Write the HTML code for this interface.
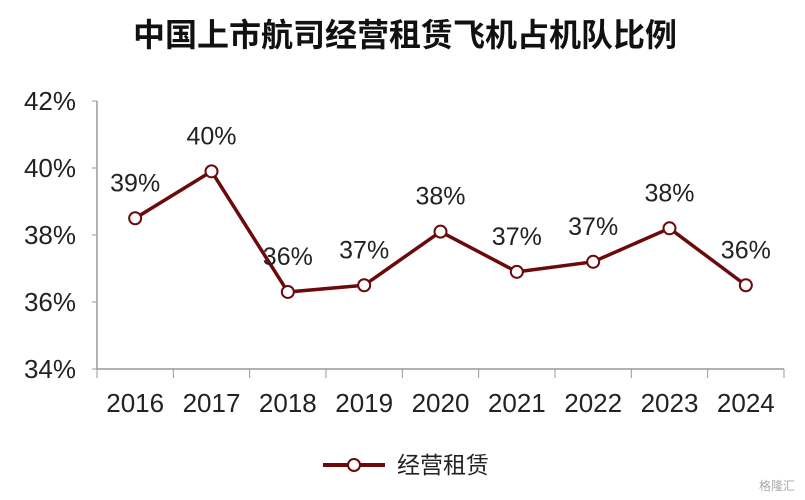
<!DOCTYPE html>
<html><head><meta charset="utf-8"><style>
body{margin:0;background:#fff;}
svg{display:block;font-family:"Liberation Sans","Noto Sans CJK SC",sans-serif;}
</style></head><body>
<svg width="805" height="500" viewBox="0 0 805 500">
<text x="405" y="46" text-anchor="middle" font-size="32" font-weight="bold" fill="#111">中国上市航司经营租赁飞机占机队比例</text>
<g id="axes"></g>
<g id="marks"></g>
<g>
<line x1="323" y1="465" x2="385" y2="465" stroke="#6b0a0a" stroke-width="4"/>
<circle cx="354" cy="465" r="6" fill="#fff" stroke="#6b0a0a" stroke-width="2"/>
<text x="397" y="473" font-size="23" fill="#222">经营租赁</text>
</g>
<text x="795" y="490" text-anchor="end" font-size="12" fill="#aaa">格隆汇</text>
</svg>
<script>
const categories=["2016","2017","2018","2019","2020","2021","2022","2023","2024"];
const values=[38.5,39.9,36.3,36.5,38.1,36.9,37.2,38.2,36.5];
const labels=["39%","40%","36%","37%","38%","37%","37%","38%","36%"];
const yTicks=[34,36,38,40,42];
const NS="http://www.w3.org/2000/svg";
const L=97,R=784,T=101,B=369,ymin=34,ymax=42;
const bw=(R-L)/categories.length;
const x=i=>L+bw*(i+0.5);
const y=v=>B-(v-ymin)/(ymax-ymin)*(B-T);
function mk(tag,attrs,parent){const e=document.createElementNS(NS,tag);for(const k in attrs)e.setAttribute(k,attrs[k]);parent.appendChild(e);return e;}
const ax=document.getElementById('axes'),mg=document.getElementById('marks');
const yl=mk('line',{x1:L,y1:T,x2:L,y2:B,stroke:'#999','stroke-width':1.5},ax);


const xl=mk('line',{x1:L,y1:B,x2:R,y2:B,stroke:'#999','stroke-width':1.5},ax);


yTicks.forEach(t=>{
 mk('line',{x1:L-5,y1:y(t),x2:L,y2:y(t),stroke:'#999'},ax);
 const tx=mk('text',{x:76,y:y(t)+9,'text-anchor':'end','font-size':26,fill:'#222'},ax);
 tx.textContent=t+'%';
 
 
});
for(let i=0;i<=categories.length;i++)mk('line',{x1:L+bw*i,y1:B,x2:L+bw*i,y2:B+9,stroke:'#999'},ax);
categories.forEach((c,i)=>{
 const tx=mk('text',{x:x(i),y:412,'text-anchor':'middle','font-size':26,fill:'#222'},ax);
 tx.textContent=c;
 
 
});
const pl=mk('polyline',{points:values.map((v,i)=>x(i)+','+y(v)).join(' '),fill:'none',stroke:'#6b0a0a','stroke-width':3.5,'stroke-linejoin':'round'},mg);


values.forEach((v,i)=>{
 const c=mk('circle',{cx:x(i),cy:y(v),r:6,fill:'#fff',stroke:'#6b0a0a','stroke-width':2},mg);
 
 
 const tx=mk('text',{x:x(i),y:y(v)-27,'text-anchor':'middle','font-size':25,fill:'#222'},mg);
 tx.textContent=labels[i];
 
 
});
</script>
</body></html>
